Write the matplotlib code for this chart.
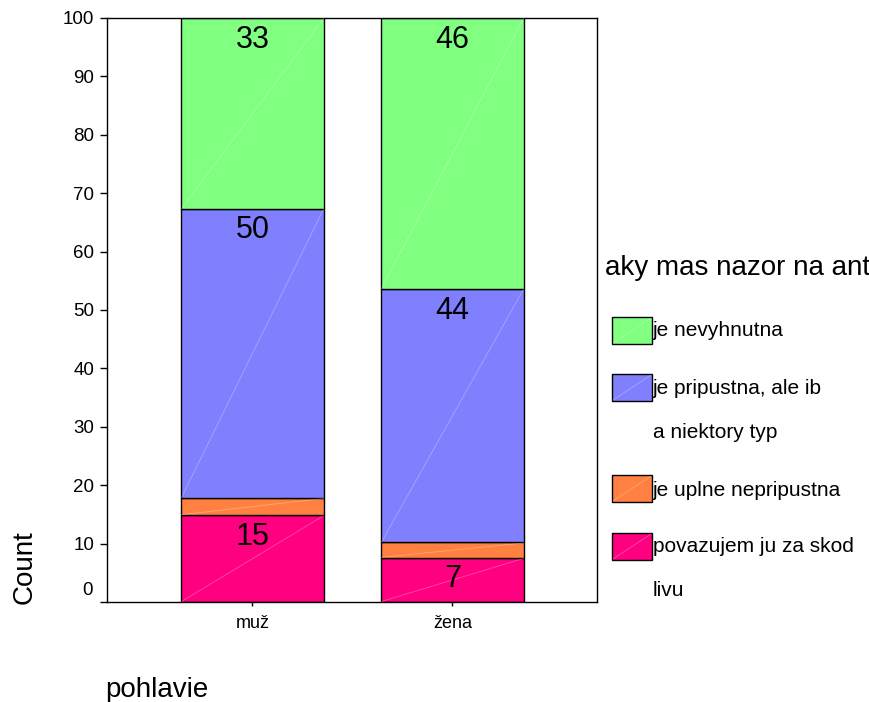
import matplotlib
matplotlib.use("Agg")
import matplotlib.pyplot as plt
from matplotlib.patches import Rectangle
import numpy as np

plt.rcParams['font.family'] = ['Liberation Sans', 'DejaVu Sans']

# ---- data ----
groups = ["muž", "žena"]
categories = ["povazujem ju za skod\nlivu", "je uplne nepripustna",
              "je pripustna, ale ib\na niektory typ", "je nevyhnutna"]
colors = ["#FF0080", "#FF8040", "#8080FF", "#80FF80"]
muz_pct = [14.85, 2.97, 49.5, 32.68]
zena_pct = [7.55, 2.65, 43.4, 46.4]
muz_labels = ["15", "", "50", "33"]
zena_labels = ["7", "", "44", "46"]
yticks = [0, 10, 20, 30, 40, 50, 60, 70, 80, 90, 100]
legend_title = "aky mas nazor na ant"
xlabel = "pohlavie"
ylabel = "Count"

W, H = 869, 702
fig = plt.figure(figsize=(W / 100, H / 100), dpi=100)
ax = fig.add_axes([107 / W, 1 - 602 / H, 490 / W, 584 / H])

x = np.arange(len(groups))
width = 0.715
data = np.array([muz_pct, zena_pct])
labels = [muz_labels, zena_labels]
bottom = np.zeros(len(groups))
for j in range(len(categories)):
    vals = data[:, j]
    ax.bar(x, vals, width, bottom=bottom, color=colors[j],
           edgecolor='black', linewidth=1, zorder=2)
    for i in range(len(groups)):
        x0, x1 = x[i] - width / 2, x[i] + width / 2
        ax.plot([x0 + 0.003, x1 - 0.003], [bottom[i] + 0.1, bottom[i] + vals[i] - 0.1],
                color='white', lw=0.6, alpha=0.3, zorder=3)
        if labels[i][j]:
            ax.annotate(labels[i][j], (x[i], bottom[i] + vals[i]),
                        xytext=(0, -15.5), textcoords='offset points',
                        ha='center', va='center', fontsize=22, zorder=4)
    bottom += vals

ax.set_xlim(-0.7275, 1.7225)
ax.set_ylim(0, 100)
ax.set_xticks(x)
ax.set_xticklabels(groups, fontsize=13)
ax.set_yticks(yticks)
ax.set_yticklabels([""] + [str(t) for t in yticks[1:]], fontsize=13.5)
ax.annotate(str(yticks[0]), xy=(0, yticks[0]), xycoords=('axes fraction', 'data'),
            xytext=(-10, 8), textcoords='offset points', ha='right', va='center',
            fontsize=13.5)
ax.tick_params(axis='y', direction='out', length=5, width=1, pad=4)
ax.tick_params(axis='x', direction='out', length=3, width=1, pad=6)
for s in ax.spines.values():
    s.set_linewidth(1)

fig.text(25 / W, 1 - 567 / H, ylabel, rotation=90, ha='center', va='center', fontsize=20)
fig.text(105 / W, 1 - 690 / H, xlabel, ha='left', va='center', fontsize=20)

# ---- legend ----
fig.text(605 / W, 1 - 268 / H, legend_title, ha='left', va='center', fontsize=20)
sw_tops = [317, 374, 475, 533]
text_y = [331, 389, 490, 547]
order = [3, 2, 1, 0]
for k, j in enumerate(order):
    top = sw_tops[k]
    r = Rectangle((612 / W, 1 - (top + 27) / H), 40 / W, 27 / H,
                  transform=fig.transFigure, facecolor=colors[j],
                  edgecolor='black', linewidth=1)
    fig.add_artist(r)
    fig.add_artist(plt.Line2D([613 / W, 651 / W], [1 - (top + 26) / H, 1 - (top + 1) / H],
                              transform=fig.transFigure, color='white', lw=0.6, alpha=0.3))
    lines = categories[j].split("\n")
    for li, line in enumerate(lines):
        fig.text(653 / W, 1 - (text_y[k] + 44 * li) / H, line, ha='left', va='center',
                 fontsize=15)

fig.savefig("out.png", dpi=100)
